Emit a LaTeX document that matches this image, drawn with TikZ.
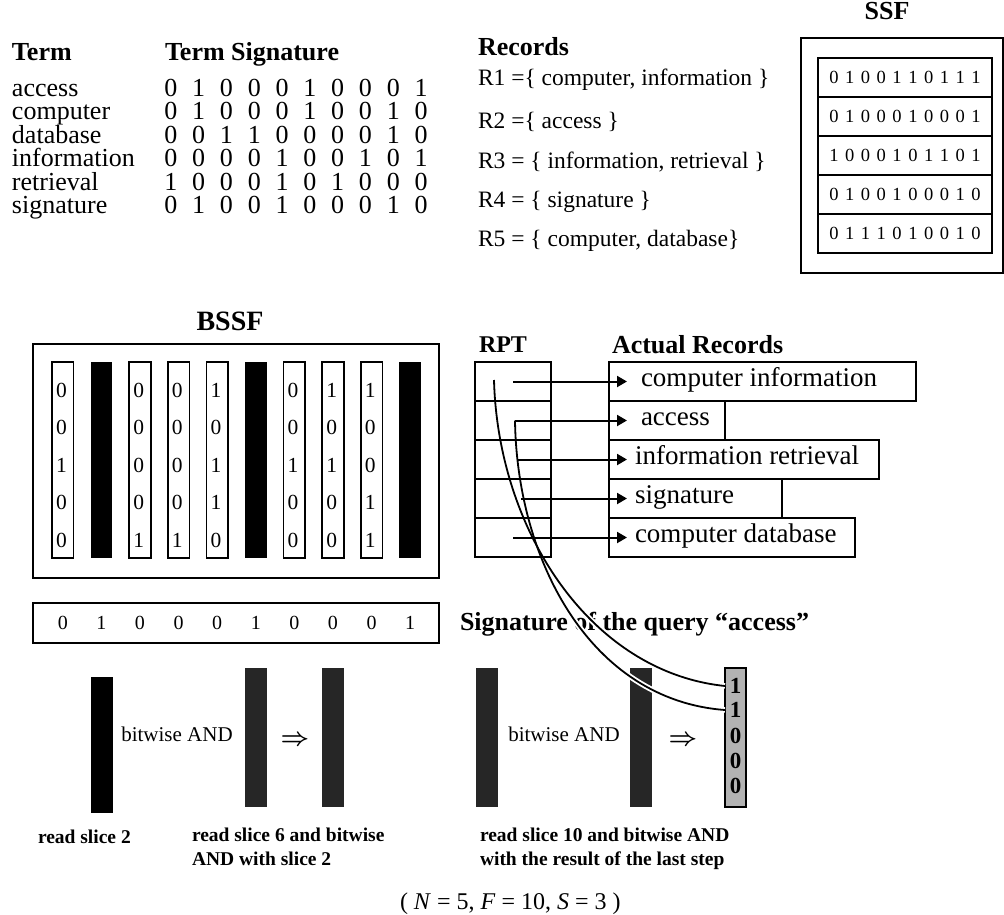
\documentclass[tikz,border=0pt]{standalone}
\usepackage{fontspec}
\setmainfont{Liberation Serif}
\usetikzlibrary{arrows.meta}
\newcommand\fs[1]{\fontsize{#1}{#1}\selectfont}
\def\bw{10pt}
\def\bitloop#1{\ifx#1\relax\else\makebox[\bw][c]{#1}\expandafter\bitloop\fi}
\newcommand\bitrow[2]{\def\bw{#1}\edef\tmpbits{#2}\expandafter\bitloop\tmpbits\relax}
\tikzset{
 txt/.style={inner sep=0pt, outer sep=0pt, anchor=west, execute at begin node=\strut},
 hdr/.style={txt, font=\fs{26}\bfseries},
 body/.style={txt, font=\fs{26}},
 rec/.style={txt, font=\fs{23.5}},
 mid/.style={txt, anchor=center, font=\fs{21}},
 impl/.style={txt, anchor=center, font=\fs{27}\boldmath},
 foot/.style={txt, font=\fs{19.5}\bfseries},
 digit/.style={inner sep=0pt, outer sep=0pt, anchor=center},
 frame/.style={draw, line width=1.8pt, inner sep=0pt, outer sep=0pt, anchor=north west},
 cell/.style={frame, line width=1.6pt},
 wslice/.style={frame, line width=1.6pt, minimum width=21.5pt, minimum height=196pt},
 bslice/.style={frame, draw=none, fill=black, minimum width=21.5pt, minimum height=196pt},
 dslice/.style={frame, draw=none, fill=black!85, minimum width=22pt, minimum height=139pt},
 halo/.style={draw=white, line width=5.5pt},
 curve/.style={draw=black, line width=1.8pt},
 ptr/.style={line width=2pt, -{Triangle[length=10pt,width=11pt]}, shorten >=-18pt}
}
\begin{document}
\begin{tikzpicture}[x=1pt,y=-1pt]
\useasboundingbox (0,0) rectangle (1004,915);

% ---- term table
\node[hdr] (termh) at (12,55) {Term};
\node[hdr] (sigh) at (165,55) {Term Signature};
\foreach \t/\b [count=\i] in {access/0100010001,computer/0100010010,database/0011000010,information/0000100101,retrieval/1000101000,signature/0100100010}{
  \node[body] (term\i) at (12,{91+23.5*(\i-1)}) {\t};
  \node[body] (tsig\i) at (157,{91+23.5*(\i-1)}) {\bitrow{27.8pt}{\b}};
}

% ---- records
\node[hdr] (rech) at (478,50) {Records};
\node[rec] (r1) at (478,81) {R1 =\{ computer, information \}};
\node[rec] (r2) at (478,124) {R2 =\{ access \}};
\node[rec] (r3) at (478,164) {R3 = \{ information, retrieval \}};
\node[rec] (r4) at (478,203) {R4 = \{ signature \}};
\node[rec] (r5) at (478,242) {R5 = \{ computer, database\}};

% ---- SSF
\node[hdr, anchor=center] (ssfh) at (887,14) {SSF};
\node[frame, minimum width=202pt, minimum height=235pt] (ssf) at (801,38) {};
\foreach \b [count=\i] in {0100110111,0100010001,1000101101,0100100010,0111010010}
  \node[cell, minimum width=174pt, minimum height=39pt, font=\fs{18.5}] (ssf\i) at (818,{58+39*(\i-1)}) {\bitrow{15.8pt}{\b}};

% ---- BSSF
\node[hdr, font=\fs{28}\bfseries, anchor=center] (bssfh) at (230,325) {BSSF};
\node[frame, minimum width=406pt, minimum height=234pt] (bssf) at (33,344) {};
\foreach \i in {2,6,10} \node[bslice] (sl\i) at ({52+38.6*(\i-1)},362) {};
\foreach \i/\c in {1/{0,0,1,0,0},3/{0,0,0,0,1},4/{0,0,0,0,1},5/{1,0,1,1,0},7/{0,0,1,0,0},8/{1,0,1,0,0},9/{1,0,0,1,1}}{
  \node[wslice] (sl\i) at ({52+38.6*(\i-1)},362) {};
  \foreach \d [count=\k] in \c
    \node[digit, font=\fs{21.5}] (b\i-\k) at ({52+38.6*(\i-1)+9.5},{390+37.5*(\k-1)}) {\d};
}

% ---- query signature
\node[frame, minimum width=406pt, minimum height=40pt] (qbox) at (33,603) {};
\foreach \d [count=\i] in {0,1,0,0,0,1,0,0,0,1}
  \node[digit, font=\fs{20}] (q\i) at ({62.75+38.6*(\i-1)},623) {\d};
\node[hdr] (qlab) at (460,625) {Signature of the query “access”};

% ---- steps
\node[frame, draw=none, fill=black, minimum width=22pt, minimum height=136pt] (s1) at (91,677) {};
\node[mid] (and1) at (177,737) {bitwise AND};
\node[dslice] (s2) at (245,668) {};
\node[impl] (imp1) at (295,740) {$\Rightarrow$};
\node[dslice] (s3) at (322,668) {};
\node[dslice] (s4) at (476,668) {};
\node[mid] (and2) at (564,737) {bitwise AND};
\node[dslice] (s5) at (630,668) {};
\node[impl] (imp2) at (683,740) {$\Rightarrow$};
\node[frame, line width=1.6pt, fill=black!30, minimum width=21pt, minimum height=139pt] (res) at (725,668) {};
\foreach \d/\yy [count=\i] in {1/686,1/710,0/736,0/761,0/786}
  \node[digit, font=\fs{23}\bfseries] (rd\i) at (735.5,\yy) {\d};

\node[foot] (t1) at (38,840) {read slice 2};
\node[foot] (t2a) at (192,838) {read slice 6 and bitwise};
\node[foot] (t2b) at (192,862) {AND with slice 2};
\node[foot] (t3a) at (480,838) {read slice 10 and bitwise AND};
\node[foot] (t3b) at (480,862) {with the result of the last step};
\node[txt, font=\fs{24}] (params) at (400,905) {( \textit{N} = 5, \textit{F} = 10, \textit{S} = 3 )};

% ---- curves from RPT to result
\coordinate (ca) at (494,380);
\coordinate (cb) at (515,420.5);
\path[halo] (ca) .. controls (498,530) and (590,672) .. (rd1 -| res.west);
\path[halo] (cb) .. controls (517,560) and (590,700) .. (rd2 -| res.west);
\path[curve] (ca) .. controls (498,530) and (590,672) .. (rd1 -| res.west);
\path[curve] (cb) .. controls (517,560) and (590,700) .. (rd2 -| res.west);

% ---- RPT and actual records
\node[hdr, font=\fs{24}\bfseries, anchor=center] (rpth) at (503,348) {RPT};
\node[hdr] (acth) at (612,348) {Actual Records};
\foreach \i in {1,...,5}
  \node[cell, minimum width=76pt, minimum height=39pt] (rpt\i) at (475,{362+39*(\i-1)}) {};
\foreach \w/\t/\tx [count=\i] in {307pt/computer information/641,116pt/access/641,270pt/information retrieval/635,173pt/signature/635,246pt/computer database/635}{
  \node[cell, minimum width=\w, minimum height=39pt] (rec\i) at (609,{362+39*(\i-1)}) {};
  \node[txt, font=\fs{27}] (rt\i) at (\tx,{381.5+39*(\i-1)}) {\t};
}
\coordinate (p1) at (513,381.5);
\coordinate (p3) at (517,459.5);
\coordinate (p4) at (521,498.5);
\coordinate (p5) at (513,537.5);
\draw[ptr] (p1) -- (rec1.west);
\draw[ptr] (cb) -- (rec2.west);
\draw[ptr] (p3) -- (rec3.west);
\draw[ptr] (p4) -- (rec4.west);
\draw[ptr] (p5) -- (rec5.west);
\end{tikzpicture}
\end{document}
